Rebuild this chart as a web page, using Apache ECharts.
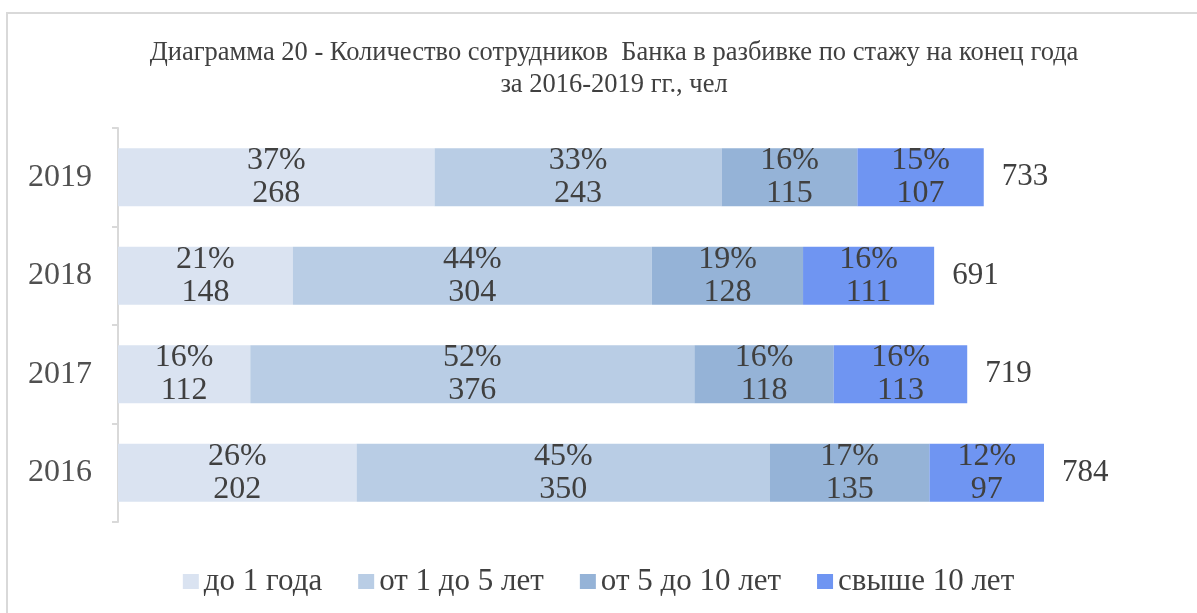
<!DOCTYPE html>
<html>
<head>
<meta charset="utf-8">
<script src="https://cdn.jsdelivr.net/npm/echarts@6/dist/echarts.min.js"></script>
<style>
	html, body { margin: 0; padding: 0; background: #fff; }
	#chart { width: 1197px; height: 613px; }
</style>
</head>
<body>
<div id="chart"></div>
<script>
	// годы снизу вверх
	const years = ['2016', '2017', '2018', '2019'];
	const seriesNames = ['до 1 года', 'от 1 до 5 лет', 'от 5 до 10 лет', 'свыше 10 лет'];
	const upTo1 = [202, 112, 148, 268];
	const from1to5 = [350, 376, 304, 243];
	const from5to10 = [135, 118, 128, 115];
	const over10 = [97, 113, 111, 107];
	const colors = ['#dae3f1', '#b9cde5', '#95b3d7', '#6f95f2'];

	const values = [upTo1, from1to5, from5to10, over10];
	const totals = years.map((y, i) => values.reduce((s, arr) => s + arr[i], 0));

	const font = "'Liberation Serif', 'Times New Roman', serif";
	const chart = echarts.init(document.getElementById('chart'));

	const series = values.map((arr, k) => ({
		name: seriesNames[k],
		type: 'bar',
		stack: 'all',
		barWidth: 58,
		data: arr,
		itemStyle: { color: colors[k] },
		label: {
			show: true,
			position: 'inside',
			color: '#404040',
			fontFamily: font,
			fontSize: 32,
			lineHeight: 33,
			formatter: p => Math.round(p.value / totals[p.dataIndex] * 100) + '%\n' + p.value
		}
	}));
	// подписи итогов справа
	series.push({
		name: 'итого',
		type: 'bar',
		stack: 'all',
		barWidth: 58,
		data: years.map(() => 0),
		itemStyle: { color: 'transparent' },
		label: {
			show: true,
			position: 'right',
			distance: 18,
			color: '#404040',
			fontFamily: font,
			fontSize: 31,
			formatter: p => totals[p.dataIndex]
		}
	});

	chart.setOption({
		animation: false,
		textStyle: { fontFamily: font },
		graphic: [{
			type: 'rect',
			shape: { x: 7, y: 13, width: 1220, height: 640 },
			style: { fill: 'none', stroke: '#d9d9d9', lineWidth: 2 },
			silent: true
		}],
		title: {
			text: 'Диаграмма 20 - Количество сотрудников  Банка в разбивке по стажу на конец года\nза 2016-2019 гг., чел',
			left: 609,
			textAlign: 'center',
			top: 32,
			textStyle: {
				fontFamily: font,
				fontWeight: 'normal',
				fontSize: 26.5,
				lineHeight: 32,
				color: '#404040'
			}
		},
		legend: {
			data: seriesNames,
			top: 561,
			left: 'center',
			icon: 'rect',
			itemWidth: 16,
			itemHeight: 15,
			itemGap: 36,
			textStyle: { fontFamily: font, fontSize: 31, color: '#404040' }
		},
		grid: { left: 118, right: 16, top: 128, bottom: 91 },
		xAxis: {
			type: 'value',
			min: 0,
			max: 900,
			show: false
		},
		yAxis: {
			type: 'category',
			data: years,
			axisLine: { show: true, lineStyle: { color: '#d9d9d9', width: 2 } },
			axisTick: { show: true, length: 6, lineStyle: { color: '#d9d9d9', width: 2 } },
			axisLabel: { color: '#505050', fontFamily: font, fontSize: 32, margin: 26 }
		},
		series: series
	});
</script>
</body>
</html>
